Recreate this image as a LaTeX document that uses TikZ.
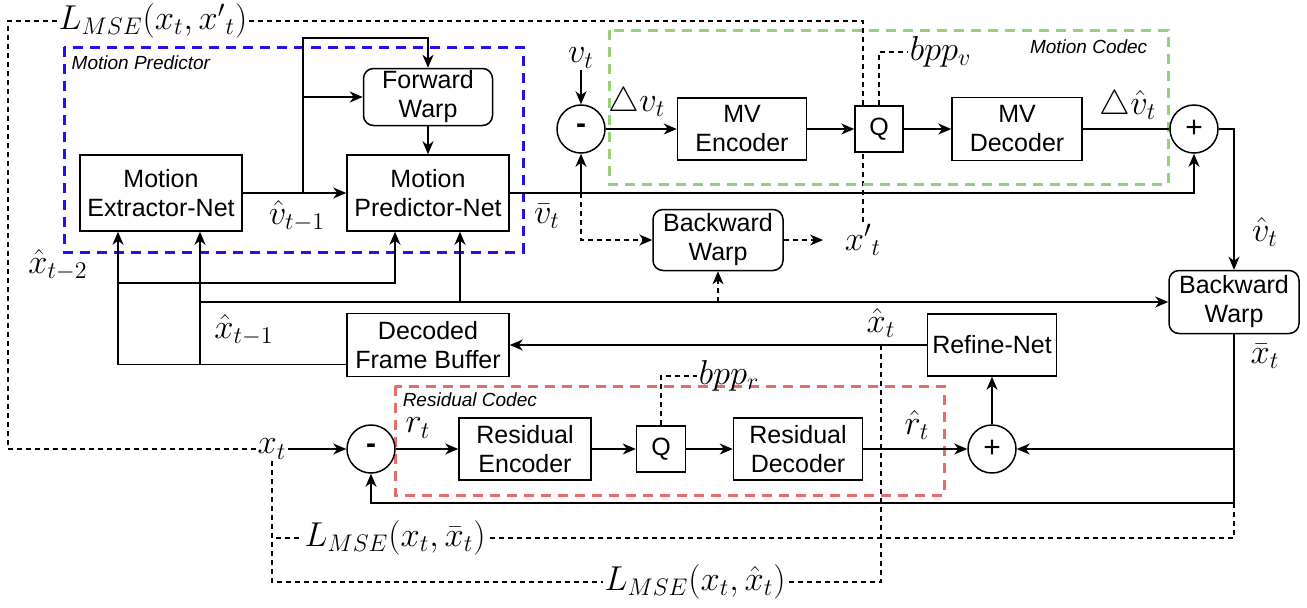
\documentclass[tikz,border=0pt]{standalone}
\usepackage{amsmath}
\usepackage{amssymb}
\usepackage{fontspec}
\setsansfont{Liberation Sans}
\usepackage{tikz}
\usetikzlibrary{arrows.meta,backgrounds}
\definecolor{mpblue}{RGB}{34,17,238}
\definecolor{mcgreen}{RGB}{151,208,119}
\definecolor{rcred}{RGB}{234,107,102}

\begin{document}
\begin{tikzpicture}[x=0.5pt, y=-0.5pt, line width=0.75pt,
	box/.style={draw, fill=white, align=center, inner sep=0pt, font=\sffamily\fontsize{12.5}{14.5}\selectfont},
	rbox/.style={box, rounded corners=5pt},
	op/.style={draw, fill=white, circle, minimum size=24pt, inner sep=0pt, font=\sffamily\fontsize{15}{15}\selectfont},
	lbl/.style={inner sep=0.5pt, font=\LARGE},
	arr/.style={-{Stealth[length=6.5pt, width=5.5pt, inset=2pt]}},
	loss/.style={line width=0.6pt, dash pattern=on 2.5pt off 2pt},
	grp/.style={line width=1.5pt, dash pattern=on 5pt off 3.5pt},
	grplbl/.style={font=\sffamily\itshape\fontsize{9.5}{11}\selectfont, inner sep=0pt}]
	\useasboundingbox (0,0) rectangle (1307,607);

	% groups
	\draw [grp, mpblue] (64,47) rectangle (523,252);
	\node [grplbl, anchor=west] at (71,63) {Motion Predictor};
	\draw [grp, mcgreen] (609,30) rectangle (1168,184);
	\node [grplbl, anchor=east] at (1148,47) {Motion Codec};
	\draw [grp, rcred] (395,386) rectangle (944,495);
	\node [grplbl, anchor=west] at (402,400) {Residual Codec};

	% motion part
	\node [box, minimum width=81pt, minimum height=38pt] (ext) at (161,193) {Motion\\Extractor-Net};
	\node [box, minimum width=81pt, minimum height=38pt] (pred) at (428,193) {Motion\\Predictor-Net};
	\node [rbox, minimum width=64.5pt, minimum height=28.5pt] (fwd) at (428,97) {Forward\\Warp};
	\node [rbox, minimum width=65pt, minimum height=30.5pt] (bwm) at (718,240) {Backward\\Warp};
	\node [op] (subv) at (581,129) {\textbf{-}};
	\node [box, minimum width=64.5pt, minimum height=31pt] (mvenc) at (742,129) {MV\\Encoder};
	\node [box, minimum width=24pt, minimum height=23pt] (qv) at (879,129) {Q};
	\node [box, minimum width=65pt, minimum height=31.5pt] (mvdec) at (1017,129) {MV\\Decoder};
	\node [op] (addv) at (1194,129) {+};
	\node [rbox, minimum width=65pt, minimum height=31.5pt] (bwr) at (1234,302) {Backward\\Warp};

	% residual part
	\node [box, minimum width=64.5pt, minimum height=31pt] (refine) at (992,345) {Refine-Net};
	\node [box, minimum width=81pt, minimum height=31.5pt] (dfb) at (428,345) {Decoded\\Frame Buffer};
	\node [op] (subr) at (371,449) {\textbf{-}};
	\node [box, minimum width=66pt, minimum height=31pt] (resenc) at (525,449) {Residual\\Encoder};
	\node [box, minimum width=24.5pt, minimum height=23pt] (qr) at (661,449) {Q};
	\node [box, minimum width=64.5pt, minimum height=31pt] (resdec) at (798,449) {Residual\\Decoder};
	\node [op] (addr) at (992,449) {+};

	% labels
	\node [lbl] (vt) at (581,58) {$v_t$};
	\node [lbl] (dv) at (637,103) {$\triangle v_t$};
	\node [lbl] (dvh) at (1128,106) {$\triangle\hat{v}_t$};
	\node [lbl, anchor=west] (bppv) at (908,52) {$bpp_v$};
	\node [lbl] (vm1) at (297,216) {$\hat{v}_{t-1}$};
	\node [lbl] (vbar) at (547,216) {$\bar{v}_t$};
	\node [lbl] (xp) at (863,240) {${x'}_t$};
	\node [lbl] (vh) at (1265,232) {$\hat{v}_t$};
	\node [lbl] (xbar) at (1265,356) {$\bar{x}_t$};
	\node [lbl] (xm2) at (58,265) {$\hat{x}_{t-2}$};
	\node [lbl] (xm1) at (244,330) {$\hat{x}_{t-1}$};
	\node [lbl] (xh) at (881,323) {$\hat{x}_t$};
	\node [lbl] (xt) at (272,449) {$x_t$};
	\node [lbl] (rt) at (418,428) {$r_t$};
	\node [lbl] (rh) at (917,425) {$\hat{r}_t$};
	\node [lbl, anchor=west] (bppr) at (697,376) {$bpp_r$};
	\node [lbl] (lossa) at (153,21) {$L_{MSE}(x_t,{x'}_t)$};
	\node [lbl] (lossb) at (395,538) {$L_{MSE}(x_t,\bar{x}_t)$};
	\node [lbl] (lossc) at (695,582) {$L_{MSE}(x_t,\hat{x}_t)$};

	\coordinate (br) at (303,193);
	\coordinate (e1) at ([xshift=-21.5pt]ext.south);
	\coordinate (e2) at ([xshift=19.5pt]ext.south);
	\coordinate (p1) at ([xshift=-16.5pt]pred.south);
	\coordinate (p2) at ([xshift=16pt]pred.south);
	\coordinate (dfbo) at ([yshift=6.5pt]dfb.south west);
	\coordinate (h1) at (118,283);
	\coordinate (h2) at (200,302);
	\coordinate (bot) at (1234,503);
	\coordinate (lc) at (8,449);

	% motion connectors
	\draw [arr] (ext) -- (pred);
	\draw [arr] (br) -- (303,38) -| (fwd.north);
	\draw [arr] (br |- fwd.west) -- (fwd.west);
	\draw [arr] (fwd) -- (pred);
	\draw [arr] (pred.east) -| (addv.south);
	\draw [arr] (subv.south |- pred.east) -- (subv.south);
	\draw [loss, arr] (subv.south |- pred.east) |- (bwm.west);
	\draw [loss, arr, shorten >=10pt] (bwm.east) -- (xp.west);
	\draw [arr] (vt) -- (subv.north);
	\draw [arr] (subv) -- (mvenc);
	\draw [arr] (mvenc) -- (qv);
	\draw [arr] (qv) -- (mvdec);
	\draw (mvdec) -- (addv);
	\draw [arr] (addv.east) -| (bwr.north);

	% frame buffer connectors
	\draw [arr] (dfbo) -| (e1);
	\draw [arr] (dfbo -| e2) -- (e2);
	\draw [arr] (h1) -| (p1);
	\draw [arr] (h2 -| p2) -- (p2);
	\draw [arr] (h2) -- (bwr.west);
	\draw [loss, arr] (h2 -| bwm.south) -- (bwm.south);

	% residual connectors
	\draw [arr] (xt) -- (subr);
	\draw [arr] (subr) -- (resenc);
	\draw [arr] (resenc) -- (qr);
	\draw [arr] (qr) -- (resdec);
	\draw [arr] (resdec) -- (addr);
	\draw [arr] (addr) -- (refine);
	\draw [arr] (refine) -- (dfb);
	\draw [arr] (bwr.south) |- (addr.east);
	\draw (bwr.south) -- (bot);
	\draw [arr] (bot) -| (subr.south);

	% losses
	\begin{scope}[on background layer]
		\draw [loss] (lossa.east) -| (xp.north);
		\draw [loss] (lossa.west) -| (lc) -- (xt.west);
		\draw [loss] (qv.north) |- (bppv.west);
		\draw [loss] (qr.north) |- (bppr.west);
		\draw [loss] (xt.south) |- (lossb.west);
		\draw [loss] (xt.south) |- (lossc.west);
		\draw [loss] (bot) |- (lossb.east);
		\draw [loss] (refine.west -| xh.south) |- (lossc.east);
	\end{scope}
\end{tikzpicture}
\end{document}
